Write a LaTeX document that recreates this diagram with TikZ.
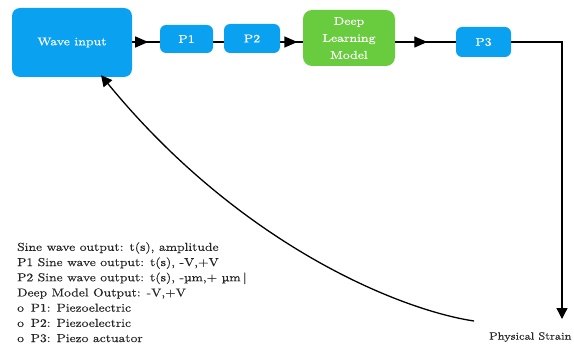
\documentclass[tikz,border=0pt]{standalone}
\usepackage{fontspec}
\usepackage{graphicx}
\usetikzlibrary{arrows.meta,decorations.markings}

% Latin Modern, slightly emboldened
\setmainfont{lmroman10-regular}[Extension=.otf, FakeBold=0.18]

\definecolor{boxblue}{RGB}{10,162,240}
\definecolor{boxgreen}{RGB}{104,204,62}

% horizontally widened text
\newcommand{\wide}[2][1.22]{\scalebox{#1}[1]{#2}}

\tikzset{
  blk/.style={fill=boxblue, draw=none, rounded corners=6pt, text=white,
              font=\fontsize{11.3}{17}\selectfont, align=center, inner sep=0pt},
  dlm/.style={blk, fill=boxgreen, rounded corners=9pt},
  wire/.style={line width=1.3pt, black},
  tip/.style={-{Triangle[length=11pt,width=11pt]}},
  midtip/.style={wire, postaction={decorate}, decoration={markings,
      mark=at position #1 with {\arrow{Triangle[length=13pt,width=11pt]}}}},
  legend/.style={anchor=north west, inner sep=0pt, text=black!85,
                 font=\fontsize{11.5}{15.2}\selectfont}
}

\begin{document}
\begin{tikzpicture}[x=1pt,y=-1pt]
  \useasboundingbox (0,0) rectangle (574,345);

  % processing chain
  \node[blk, minimum width=120pt, minimum height=69pt, rounded corners=8pt] (wave) at (72,42.5) {\wide{Wave input}};
  \node[blk, minimum width=53pt, minimum height=28pt] (p1) at (186.5,39) {\wide{P1}};
  \node[blk, minimum width=56pt, minimum height=29pt] (p2) at (252,38.5) {\wide{P2}};
  \node[dlm, minimum width=92pt, minimum height=56pt] (dlm) at (349,38) {\wide{Deep}\\\wide{Learning}\\\wide{Model}};
  \node[blk, minimum width=55pt, minimum height=30pt] (p3) at (483.5,42) {\wide{P3}};

  % output label and corner points of the return path
  \node[anchor=west, inner sep=0pt, text=black!85, font=\fontsize{10.6}{12}\selectfont] (strain) at (489,337) {\wide[1.17]{Physical Strain}};
  \coordinate (corner) at (562,42);
  \coordinate (down) at (562,319);
  \coordinate (fb) at (474,321);

  % connectors
  \draw[midtip=0.58] (wave.east |- 0,42) -- (p1.west |- 0,42);
  \draw[wire] (p1.east |- 0,42) -- (p2.west |- 0,42);
  \draw[midtip=0.76] (p2.east |- 0,42) -- (dlm.west |- 0,42);
  \draw[midtip=0.53] (dlm.east |- 0,42) -- (p3.west |- 0,42);
  \draw[wire, tip] (p3.east) -- (corner) -- (down);
  \draw[wire, tip] (fb) .. controls (400,310) and (240,245) .. ([xshift=29pt,yshift=2pt]wave.south);

  % legend
  \node[legend] (notes) at (17,240) {\wide[1.18]{%
    \begin{tabular}{@{}l@{}}
    Sine wave output: t(s), amplitude\\
    P1 Sine wave output: t(s), -V,+V\\
    P2 Sine wave output: t(s), -µm,+ µm\,|\\
    Deep Model Output: -V,+V\\
    o\enspace P1: Piezoelectric\\
    o\enspace P2: Piezoelectric\\
    o\enspace P3: Piezo actuator
    \end{tabular}}};
\end{tikzpicture}
\end{document}
